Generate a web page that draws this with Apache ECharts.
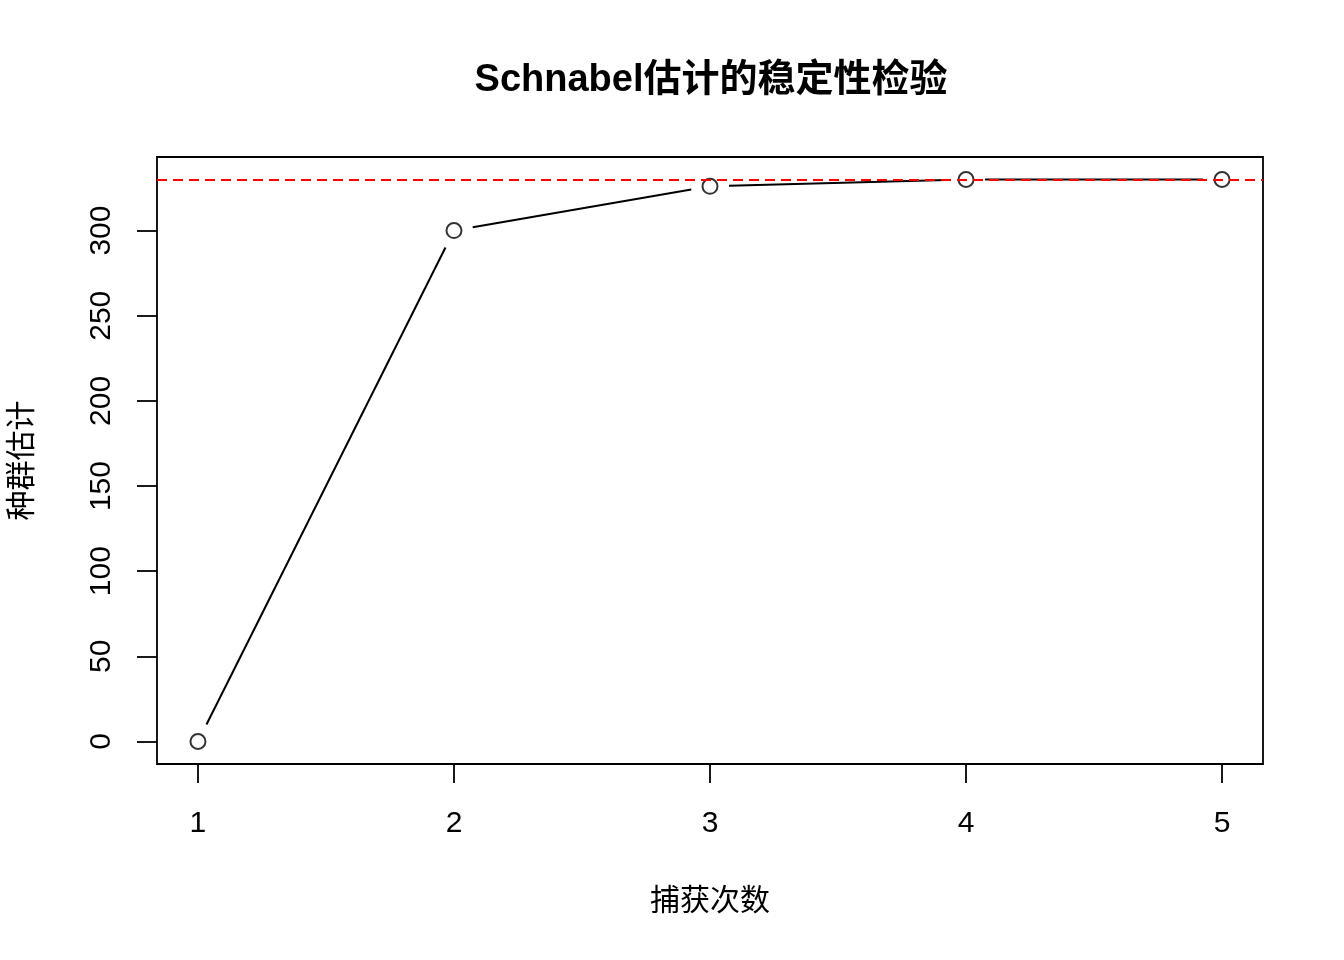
<!DOCTYPE html>
<html>
<head>
<meta charset="utf-8">
<script src="https://cdn.jsdelivr.net/npm/echarts@6/dist/echarts.min.js"></script>
<style>
html,body{margin:0;padding:0;background:#fff;}
#chart{width:1344px;height:960px;}
</style>
</head>
<body>
<div id="chart"></div>
<script>
// ---- data ----
const trials = [1, 2, 3, 4, 5];
const estimates = [0, 300, 326, 330, 330];
const refValue = 330;
const xTicks = [1, 2, 3, 4, 5];
const yTicks = [0, 50, 100, 150, 200, 250, 300];
const titleText = 'Schnabel估计的稳定性检验';
const xName = '捕获次数';
const yName = '种群估计';

const FONT = '"Liberation Sans", "Noto Sans CJK SC", sans-serif';
const chart = echarts.init(document.getElementById('chart'), null, {renderer: 'canvas'});

const points = trials.map((t, i) => [t, estimates[i]]);
const segments = trials.slice(0, -1).map((t, i) => [t, estimates[i], trials[i + 1], estimates[i + 1]]);
const GAP = 19;

// R-style 4% axis extension
const xMin = Math.min(...trials), xMax = Math.max(...trials);
const yMin = Math.min(...estimates, refValue), yMax = Math.max(...estimates, refValue);
const xPad = (xMax - xMin) * 0.04, yPad = (yMax - yMin) * 0.04;

chart.setOption({
  animation: false,
  backgroundColor: '#fff',
  title: {
    text: titleText,
    left: 706,
    textAlign: 'center',
    top: 57,
    textStyle: {fontFamily: FONT, fontSize: 38, fontWeight: 'bold', color: '#000'}
  },
  grid: {
    left: 157, top: 157, width: 1106, height: 607,
    show: true, borderColor: '#000', borderWidth: 1.8, backgroundColor: 'transparent'
  },
  xAxis: {
    type: 'value',
    min: xMin - xPad, max: xMax + xPad,
    name: xName, nameLocation: 'middle', nameGap: 123,
    nameTextStyle: {fontFamily: FONT, fontSize: 30, color: '#000'},
    axisLine: {show: false, onZero: false},
    splitLine: {show: false},
    axisTick: {show: true, length: 19, lineStyle: {color: '#000', width: 1.8}, customValues: xTicks},
    axisLabel: {fontFamily: FONT, fontSize: 30, color: '#000', margin: 45, customValues: xTicks}
  },
  yAxis: {
    type: 'value',
    min: yMin - yPad, max: yMax + yPad,
    name: yName, nameLocation: 'middle', nameGap: 119, nameRotate: 90,
    nameTextStyle: {fontFamily: FONT, fontSize: 30, color: '#000'},
    axisLine: {show: false, onZero: false},
    splitLine: {show: false},
    axisTick: {show: true, length: 20, lineStyle: {color: '#000', width: 1.8}, customValues: yTicks},
    axisLabel: {fontFamily: FONT, fontSize: 30, color: '#000', margin: 55, rotate: 90,
      verticalAlign: 'middle', customValues: yTicks}
  },
  series: [
    {
      type: 'custom',
      data: segments,
      encode: {x: [0, 2], y: [1, 3]},
      z: 2,
      renderItem: function (params, api) {
        const p0 = api.coord([api.value(0), api.value(1)]);
        const p1 = api.coord([api.value(2), api.value(3)]);
        const dx = p1[0] - p0[0], dy = p1[1] - p0[1];
        const len = Math.sqrt(dx * dx + dy * dy);
        if (len <= 2 * GAP) return null;
        const ux = dx / len, uy = dy / len;
        return {
          type: 'line',
          shape: {x1: p0[0] + ux * GAP, y1: p0[1] + uy * GAP, x2: p1[0] - ux * GAP, y2: p1[1] - uy * GAP},
          style: {stroke: '#000', lineWidth: 2}
        };
      }
    },
    {
      type: 'scatter',
      data: points,
      symbol: 'circle',
      symbolSize: 15,
      z: 3,
      itemStyle: {color: 'rgba(0,0,0,0)', borderColor: '#000', borderWidth: 2},
      markLine: {
        silent: true,
        symbol: ['none', 'none'],
        label: {show: false},
        lineStyle: {color: '#ff0000', type: [10, 6], width: 1.8, opacity: 1},
        data: [{yAxis: refValue}],
        z: 5
      }
    }
  ]
});
</script>
</body>
</html>
